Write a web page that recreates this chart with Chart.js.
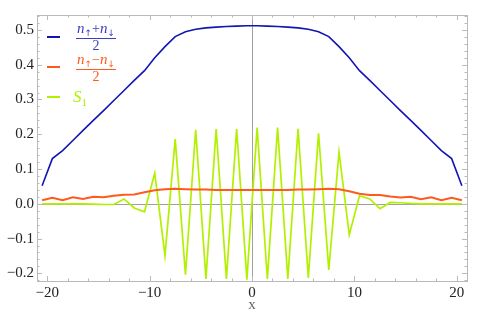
<!DOCTYPE html>
<html lang="en">
<head>
    <meta charset="UTF-8">
    <title>Densities and S1 along the chain</title>
    <script src="https://cdn.jsdelivr.net/npm/chart.js"></script>
    <style>
        html, body { margin: 0; padding: 0; background: #fff; }
        #wrap { width: 486px; height: 320px; }
    </style>
</head>
<body>
    <div id="wrap"><canvas id="chart" width="486" height="320"></canvas></div>

    <script>
        // site positions
        const sites = [-20.5, -19.5, -18.5, -17.5, -16.5, -15.5, -14.5, -13.5, -12.5, -11.5, -10.5,
                       -9.5, -8.5, -7.5, -6.5, -5.5, -4.5, -3.5, -2.5, -1.5, -0.5,
                       0.5, 1.5, 2.5, 3.5, 4.5, 5.5, 6.5, 7.5, 8.5, 9.5,
                       10.5, 11.5, 12.5, 13.5, 14.5, 15.5, 16.5, 17.5, 18.5, 19.5, 20.5];

        // (n_up + n_down) / 2
        const nSum = [0.052, 0.130, 0.153, 0.182, 0.211, 0.240, 0.268, 0.297, 0.326, 0.355, 0.383,
                      0.420, 0.452, 0.481, 0.495, 0.502, 0.506, 0.508, 0.510, 0.511, 0.512,
                      0.512, 0.511, 0.510, 0.508, 0.506, 0.502, 0.495, 0.481, 0.452, 0.420,
                      0.383, 0.355, 0.326, 0.297, 0.268, 0.240, 0.211, 0.182, 0.153, 0.130, 0.052];

        // (n_up - n_down) / 2
        const nDiff = [0.010, 0.017, 0.010, 0.019, 0.014, 0.020, 0.019, 0.023, 0.026, 0.027, 0.033,
                       0.039, 0.042, 0.043, 0.042, 0.041, 0.041, 0.040, 0.040, 0.040, 0.040,
                       0.040, 0.040, 0.040, 0.040, 0.041, 0.041, 0.042, 0.043, 0.042, 0.036,
                       0.029, 0.025, 0.025, 0.021, 0.018, 0.020, 0.013, 0.019, 0.010, 0.017, 0.010];

        // S_1
        const s1 = [0, 0, 0, 0, 0, -0.001, -0.002, -0.002, 0.014, -0.012, -0.023,
                    0.088, -0.149, 0.186, -0.204, 0.213, -0.216, 0.215, -0.216, 0.215, -0.218,
                    0.219, -0.216, 0.219, -0.216, 0.216, -0.213, 0.203, -0.190, 0.149, -0.089,
                    0.023, 0.014, -0.014, 0.004, 0.003, 0.001, 0, 0, 0, 0, 0];

        const xTicks = [-20, -10, 0, 10, 20];
        const yTicks = [-0.2, -0.1, 0.0, 0.1, 0.2, 0.3, 0.4, 0.5];

        const blue = '#1414b4';
        const orange = '#ff5a1e';
        const green = '#b2f000';
        const serif = '"Liberation Serif", "DejaVu Serif", serif';

        const pts = vals => vals.map((v, i) => ({ x: sites[i], y: v }));
        const minus = s => s.replace('-', '\u2212');

        // Mathematica-style frame: light frame, inward ticks, zero axes
        const framePlugin = {
            id: 'frame',
            beforeDatasetsDraw(chart) {
                const { ctx, chartArea: a, scales: { x, y } } = chart;
                ctx.save();
                ctx.strokeStyle = '#a0a0a0';
                ctx.lineWidth = 1;
                ctx.beginPath();
                const x0 = Math.round(x.getPixelForValue(0)) + 0.5;
                const y0 = Math.round(y.getPixelForValue(0)) + 0.5;
                ctx.moveTo(x0, a.top); ctx.lineTo(x0, a.bottom);
                ctx.moveTo(a.left, y0); ctx.lineTo(a.right, y0);
                ctx.stroke();
                ctx.restore();
            },
            afterDraw(chart) {
                const { ctx, chartArea: a, scales: { x, y } } = chart;
                ctx.save();
                ctx.strokeStyle = '#bababa';
                ctx.lineWidth = 1;
                ctx.strokeRect(Math.round(a.left) + 0.5, Math.round(a.top) + 0.5,
                    Math.round(a.right - a.left), Math.round(a.bottom - a.top));
                ctx.beginPath();
                for (let v = -20; v <= 20; v += 2) {
                    const p = Math.round(x.getPixelForValue(v)) + 0.5;
                    const len = v % 10 === 0 ? 5 : 2.5;
                    ctx.moveTo(p, a.bottom); ctx.lineTo(p, a.bottom - len);
                    ctx.moveTo(p, a.top); ctx.lineTo(p, a.top + len);
                }
                for (let k = -11; k <= 27; k++) {
                    const v = k * 0.02;
                    const p = Math.round(y.getPixelForValue(v)) + 0.5;
                    if (p < a.top || p > a.bottom) continue;
                    const len = k % 5 === 0 ? 5 : 2.5;
                    ctx.moveTo(a.left, p); ctx.lineTo(a.left + len, p);
                    ctx.moveTo(a.right, p); ctx.lineTo(a.right - len, p);
                }
                ctx.stroke();
                ctx.restore();
            }
        };

        // draw a run of text pieces centred on cx
        function drawRun(ctx, parts, cx, cy, color) {
            let w = 0;
            parts.forEach(p => { ctx.font = p.font; p.w = ctx.measureText(p.t).width; w += p.w; });
            let px = cx - w / 2;
            ctx.fillStyle = color;
            ctx.textBaseline = 'alphabetic';
            parts.forEach(p => {
                ctx.font = p.font;
                ctx.fillText(p.t, px, cy + (p.dy || 0));
                px += p.w;
            });
            return w;
        }

        function fraction(ctx, sign, cx, top, color) {
            const it = 'italic 15px ' + serif;
            const sm = '9px "DejaVu Sans", sans-serif';
            const rm = '14px ' + serif;
            const w = drawRun(ctx, [
                { t: 'n', font: it }, { t: '\u2191', font: sm, dy: 3 },
                { t: sign, font: rm }, { t: 'n', font: it }, { t: '\u2193', font: sm, dy: 3 }
            ], cx, top + 10, color);
            ctx.strokeStyle = color;
            ctx.lineWidth = 1;
            ctx.beginPath();
            ctx.moveTo(cx - w / 2 - 1, top + 15.5);
            ctx.lineTo(cx + w / 2 + 1, top + 15.5);
            ctx.stroke();
            drawRun(ctx, [{ t: '2', font: rm }], cx, top + 27, color);
        }

        const legendPlugin = {
            id: 'mathLegend',
            afterDraw(chart) {
                const ctx = chart.ctx;
                ctx.save();
                const rows = [
                    { color: blue, y: 37 },
                    { color: orange, y: 67 },
                    { color: green, y: 97 }
                ];
                rows.forEach(r => {
                    ctx.strokeStyle = r.color;
                    ctx.lineWidth = 2;
                    ctx.beginPath();
                    ctx.moveTo(47, r.y); ctx.lineTo(60, r.y);
                    ctx.stroke();
                });
                fraction(ctx, '+', 96, 23, '#3c3cc4');
                fraction(ctx, '\u2212', 96, 54, orange);
                drawRun(ctx, [
                    { t: 'S', font: 'italic 17px ' + serif },
                    { t: '1', font: '11px ' + serif, dy: 4 }
                ], 80, 102, green);
                ctx.restore();
            }
        };

        new Chart(document.getElementById('chart').getContext('2d'), {
            type: 'line',
            data: {
                datasets: [
                    { label: '(n\u2191+n\u2193)/2', data: pts(nSum), borderColor: blue, borderWidth: 1.6 },
                    { label: '(n\u2191\u2212n\u2193)/2', data: pts(nDiff), borderColor: orange, borderWidth: 2 },
                    { label: 'S1', data: pts(s1), borderColor: green, borderWidth: 1.7 }
                ]
            },
            options: {
                responsive: false,
                animation: false,
                layout: { padding: { top: 15, right: 19, left: 0, bottom: 0 } },
                elements: { point: { radius: 0 }, line: { tension: 0, fill: false } },
                plugins: { legend: { display: false }, tooltip: { enabled: false } },
                scales: {
                    x: {
                        type: 'linear', min: -21, max: 21,
                        grid: { display: false, drawTicks: false },
                        border: { display: false },
                        afterBuildTicks: s => { s.ticks = xTicks.map(v => ({ value: v })); },
                        afterFit: s => { s.height = 39; },
                        ticks: {
                            padding: 3, maxRotation: 0, color: '#222',
                            font: { family: serif, size: 15 },
                            callback: v => minus(String(v))
                        },
                        title: {
                            display: true, text: 'x', color: '#666',
                            font: { family: serif, size: 15 },
                            padding: { top: 0, bottom: 6 }
                        }
                    },
                    y: {
                        type: 'linear', min: -0.222, max: 0.543,
                        grid: { display: false, drawTicks: false },
                        border: { display: false },
                        afterBuildTicks: s => { s.ticks = yTicks.map(v => ({ value: v })); },
                        afterFit: s => { s.width = 37; },
                        ticks: {
                            padding: 3, color: '#222',
                            font: { family: serif, size: 15 },
                            callback: v => minus(v.toFixed(1))
                        }
                    }
                }
            },
            plugins: [framePlugin, legendPlugin]
        });
    </script>
</body>
</html>
